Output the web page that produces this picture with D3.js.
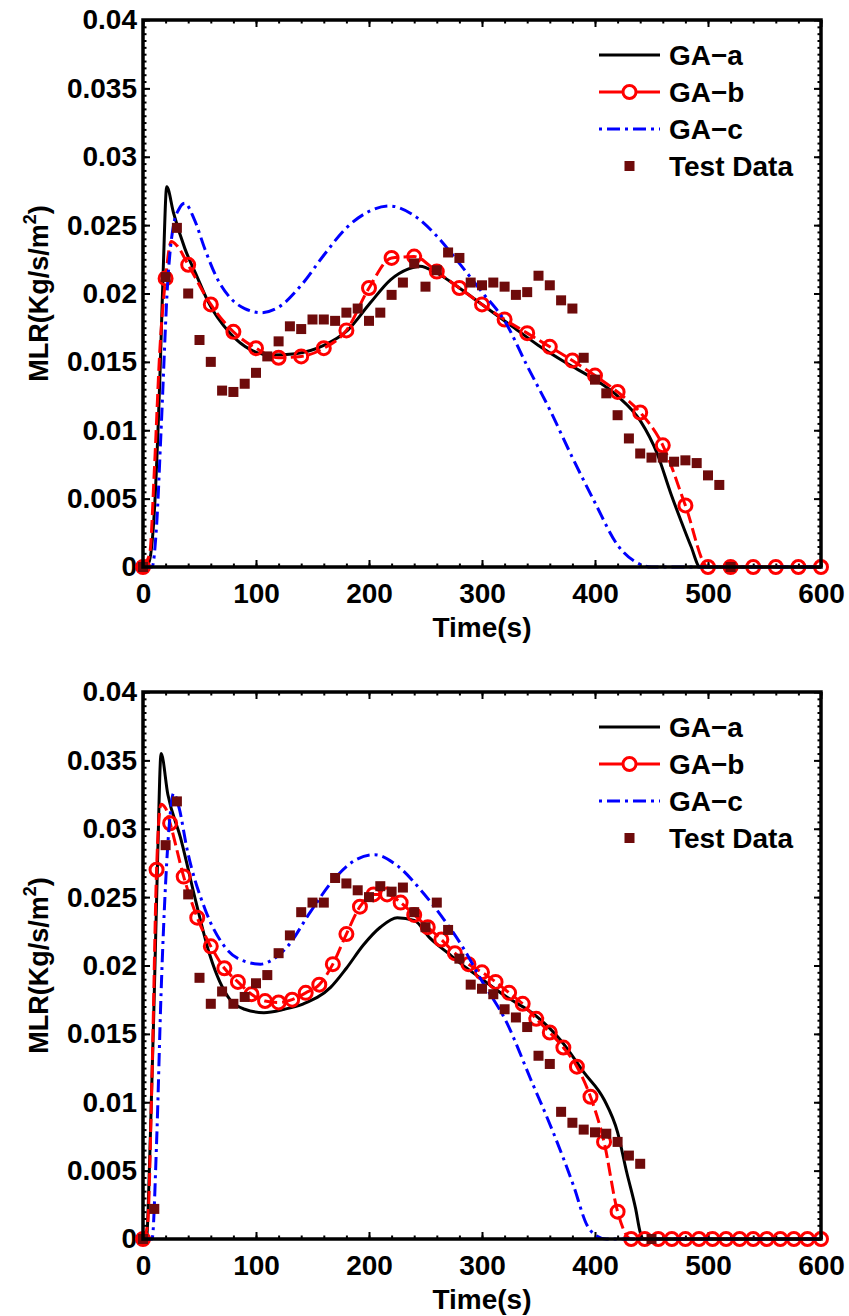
<!DOCTYPE html>
<html>
<head>
<meta charset="utf-8">
<script src="https://cdn.jsdelivr.net/npm/d3@7"></script>
<style>
body{margin:0;background:#fff}
svg{display:block}
text{font-family:"Liberation Sans",Arial,Helvetica,sans-serif;font-weight:bold;fill:#000}
</style>
</head>
<body>
<div id="chart"></div>
<script>
// ---- top panel data ----
var topA_t = [0,5,10,15,18,21,27,37,48,57,77,95,113,135,160,181,201,219,235,245,260,280,300,325,350,375,400,420,440,455,467,476,485,493,600]
var topA_v = [0,0.0003,0.004,0.014,0.022,0.0278,0.0259,0.0233,0.0212,0.0195,0.0171,0.0159,0.0155,0.0156,0.0162,0.0173,0.0193,0.021,0.0218,0.022,0.0215,0.0204,0.0192,0.0177,0.0162,0.0149,0.0137,0.0125,0.0107,0.0083,0.0054,0.0034,0.0015,0,0]

var topB_t = [0,6,10,15,20,25,30,40,60,80,100,120,140,160,180,200,220,240,260,280,300,320,340,360,380,400,420,440,460,480,500,520,540,560,580,600]
var topB_v = [0,0.001,0.007,0.016,0.0211,0.0238,0.0235,0.0221,0.0192,0.0172,0.016,0.0153,0.0154,0.016,0.0173,0.0204,0.0226,0.0227,0.0216,0.0204,0.0192,0.0181,0.0171,0.0161,0.0151,0.014,0.0128,0.0113,0.0089,0.0045,0,0,0,0,0,0]

var topC_t = [0,8,12,16,22,27,32,37,45,55,65,77,90,105,120,140,160,180,200,218,240,260,280,300,320,340,360,380,400,420,440,450,600]
var topC_v = [0,0,0.003,0.01,0.021,0.025,0.0262,0.0266,0.0255,0.0232,0.0212,0.0197,0.0189,0.0186,0.019,0.0206,0.0228,0.0248,0.026,0.0264,0.0257,0.0242,0.0222,0.0201,0.018,0.0147,0.0115,0.008,0.0047,0.0016,0.0002,0,0]

var topT_t = [0,20,30,40,50,60,70,80,90,100,110,120,130,140,150,160,170,180,190,200,210,220,230,240,250,260,270,280,290,300,310,320,330,340,350,360,370,380,390,400,410,420,430,440,450,460,470,480,490,500,510,520]
var topT_v = [0,0.0212,0.0248,0.02,0.0166,0.015,0.0129,0.0128,0.0134,0.0142,0.0154,0.0165,0.0176,0.0174,0.0181,0.0181,0.018,0.0186,0.0189,0.018,0.0186,0.0199,0.0208,0.0222,0.0205,0.0217,0.023,0.0226,0.0208,0.0206,0.0208,0.0205,0.0199,0.0201,0.0213,0.0206,0.0195,0.0189,0.0153,0.0137,0.0127,0.0111,0.0094,0.0083,0.008,0.008,0.0077,0.0078,0.0076,0.0067,0.006,0]

// ---- bottom panel data ----
var botA_t = [0,3,6,10,13,16,22,33,47,59,77,90,107,125,142,166,180,195,210,225,240,254,270,285,300,320,348,370,390,408,420,428,436,440,443,600]
var botA_v = [0,0,0.006,0.018,0.028,0.0355,0.0325,0.0294,0.0246,0.0208,0.0175,0.0168,0.01655,0.0168,0.0172,0.0184,0.0198,0.0215,0.0228,0.0235,0.0233,0.022,0.0209,0.0199,0.019,0.0178,0.0163,0.0145,0.0122,0.0102,0.0078,0.0049,0.0022,0.0005,0,0]

var botB_t = [0,4,8,12,16,20,24,36,48,60,72,84,96,108,120,132,144,156,168,180,192,204,216,228,240,252,264,276,288,300,312,324,336,348,360,372,384,396,408,420,432,444,456,468,480,492,504,516,528,540,552,564,576,588,600]
var botB_v = [0,0.001,0.012,0.027,0.0318,0.0315,0.0304,0.0265,0.0235,0.0214,0.0198,0.0188,0.0179,0.0174,0.0173,0.0175,0.018,0.0186,0.0201,0.0223,0.0243,0.0252,0.0252,0.0246,0.0237,0.0228,0.0219,0.0209,0.0201,0.0195,0.0188,0.018,0.0172,0.0161,0.0151,0.014,0.0126,0.0104,0.0071,0.002,0,0,0,0,0,0,0,0,0,0,0,0,0,0,0]

var botC_t = [0,8,12,16,20,24,27,32,39,55,74,90,104,116,128,148,169,190,205,225,246,266,284,299,322,343,363,381,393,402,410,600]
var botC_v = [0,0,0.007,0.018,0.026,0.031,0.0326,0.0315,0.0285,0.0241,0.0212,0.0203,0.0201,0.0205,0.0214,0.0239,0.0263,0.0278,0.0281,0.0273,0.0255,0.0234,0.0212,0.019,0.0158,0.0117,0.0078,0.0039,0.001,0.0002,0,0]

var botT_t = [0,10,20,30,40,50,60,70,80,90,100,110,120,130,140,150,160,170,180,190,200,210,220,230,240,250,260,270,280,290,300,310,320,330,340,350,360,370,380,390,400,410,420,430,440,450]
var botT_v = [0,0.0022,0.0288,0.032,0.0252,0.0191,0.0172,0.0181,0.0172,0.0177,0.0187,0.0193,0.0209,0.0222,0.0239,0.0246,0.0246,0.0264,0.026,0.0255,0.025,0.0258,0.0254,0.0257,0.0239,0.0228,0.0246,0.0226,0.0205,0.0186,0.0183,0.0179,0.0168,0.0162,0.0155,0.0134,0.0128,0.0093,0.0085,0.008,0.0078,0.0077,0.0071,0.0061,0.0055,0]

var xTicks = [0,100,200,300,400,500,600]
var yTicks = [0,0.005,0.01,0.015,0.02,0.025,0.03,0.035,0.04]
var legendNames = ['GA\u2212a','GA\u2212b','GA\u2212c','Test Data']

var W = 849, H = 1316
var left = 143, right = 821, ph = 547
var red = '#ff0000', blue = '#0000ff', dark = '#6e0b0b'

var svg = d3.select('#chart').append('svg')
  .attr('width', W)
  .attr('height', H)

function zip(ts, vs){
  return ts.map(function(t,i){ return {t:t, v:vs[i]} })
}

function panel(top, a, b, bStep, c, test){
  var x = d3.scaleLinear().domain([0,600]).range([left,right])
  var y = d3.scaleLinear().domain([0,0.04]).range([top+ph, top])
  var g = svg.append('g')

  var line = d3.line()
    .x(function(d){ return x(d.t) })
    .y(function(d){ return y(d.v) })
    .curve(d3.curveMonotoneX)

  // minor ticks
  var xMinor = d3.range(0,601,20)
  var yMinor = d3.range(0,0.04001,0.0005)
  g.append('g').attr('transform','translate(0,'+(top+ph)+')')
    .call(d3.axisBottom(x).tickValues(xMinor).tickSizeInner(-3.5).tickSizeOuter(0).tickFormat(''))
  g.append('g').attr('transform','translate(0,'+top+')')
    .call(d3.axisTop(x).tickValues(xMinor).tickSizeInner(-3.5).tickSizeOuter(0).tickFormat(''))
  g.append('g').attr('transform','translate('+left+',0)')
    .call(d3.axisLeft(y).tickValues(yMinor).tickSizeInner(-3.5).tickSizeOuter(0).tickFormat(''))
  g.append('g').attr('transform','translate('+right+',0)')
    .call(d3.axisRight(y).tickValues(yMinor).tickSizeInner(-3.5).tickSizeOuter(0).tickFormat(''))

  // major ticks + labels
  var xb = g.append('g').attr('transform','translate(0,'+(top+ph)+')')
    .call(d3.axisBottom(x).tickValues(xTicks).tickSizeInner(-7).tickSizeOuter(0).tickPadding(16).tickFormat(d3.format('d')))
  g.append('g').attr('transform','translate(0,'+top+')')
    .call(d3.axisTop(x).tickValues(xTicks).tickSizeInner(-7).tickSizeOuter(0).tickFormat(''))
  var yl = g.append('g').attr('transform','translate('+left+',0)')
    .call(d3.axisLeft(y).tickValues(yTicks).tickSizeInner(-7).tickSizeOuter(0).tickPadding(6)
      .tickFormat(function(d){ return d === 0 ? '0' : String(+d.toFixed(3)) }))
  g.append('g').attr('transform','translate('+right+',0)')
    .call(d3.axisRight(y).tickValues(yTicks).tickSizeInner(-7).tickSizeOuter(0).tickFormat(''))

  g.selectAll('.domain').remove()
  g.selectAll('.tick line').attr('stroke','#000').attr('stroke-width',2)
  g.selectAll('.tick text').attr('font-size',28).attr('font-weight','bold')
    .attr('font-family','"Liberation Sans",Arial,sans-serif').attr('fill','#000')

  // curves
  g.append('path').datum(zip(a[0],a[1])).attr('d',line)
    .attr('fill','none').attr('stroke','#000').attr('stroke-width',3)
  var bd = zip(b[0],b[1])
  g.append('path').datum(bd).attr('d',line)
    .attr('fill','none').attr('stroke',red).attr('stroke-width',3).attr('stroke-dasharray','13,5')
  g.selectAll('circle.mk').data(bd.filter(function(d){ return d.t % bStep === 0 }))
    .enter().append('circle').attr('class','mk')
    .attr('cx',function(d){ return x(d.t) })
    .attr('cy',function(d){ return y(d.v) })
    .attr('r',6.5).attr('fill','none').attr('stroke',red).attr('stroke-width',3)
  g.append('path').datum(zip(c[0],c[1])).attr('d',line)
    .attr('fill','none').attr('stroke',blue).attr('stroke-width',3).attr('stroke-dasharray','13,5,3,5')
  g.selectAll('rect.td').data(zip(test[0],test[1]))
    .enter().append('rect').attr('class','td')
    .attr('x',function(d){ return x(d.t)-5 })
    .attr('y',function(d){ return y(d.v)-5 })
    .attr('width',10).attr('height',10).attr('fill',dark)

  // frame
  g.append('rect').attr('x',left).attr('y',top).attr('width',right-left).attr('height',ph)
    .attr('fill','none').attr('stroke','#000').attr('stroke-width',3.5)

  // legend
  var lg = g.append('g')
  legendNames.forEach(function(name,i){
    var ly = top + 35 + i*37
    if(i === 0){
      lg.append('line').attr('x1',599).attr('x2',660).attr('y1',ly).attr('y2',ly).attr('stroke','#000').attr('stroke-width',3)
    } else if(i === 1){
      lg.append('line').attr('x1',599).attr('x2',660).attr('y1',ly).attr('y2',ly).attr('stroke',red).attr('stroke-width',3)
      lg.append('circle').attr('cx',629.5).attr('cy',ly).attr('r',6.5).attr('fill','#fff').attr('stroke',red).attr('stroke-width',3)
    } else if(i === 2){
      lg.append('line').attr('x1',599).attr('x2',660).attr('y1',ly).attr('y2',ly).attr('stroke',blue).attr('stroke-width',3).attr('stroke-dasharray','3,5,13,5')
    } else {
      lg.append('rect').attr('x',624.5).attr('y',ly-5).attr('width',10).attr('height',10).attr('fill',dark)
    }
    lg.append('text').attr('x',669).attr('y',ly).attr('dy','0.36em').attr('font-size',28).text(name)
  })

  // axis titles
  g.append('text').attr('x',(left+right)/2).attr('y',top+ph+70)
    .attr('text-anchor','middle').attr('font-size',28).text('Time(s)')
  var yt = g.append('text').attr('transform','translate(48,'+(top+ph/2)+') rotate(-90)')
    .attr('text-anchor','middle').attr('font-size',27)
  yt.append('tspan').text('MLR(Kg/s/m')
  yt.append('tspan').attr('font-size',18).attr('dy',-12).text('2')
  yt.append('tspan').attr('dy',12).text(')')
}

panel(20, [topA_t,topA_v], [topB_t,topB_v], 20, [topC_t,topC_v], [topT_t,topT_v])
panel(692, [botA_t,botA_v], [botB_t,botB_v], 12, [botC_t,botC_v], [botT_t,botT_v])
</script>
</body>
</html>
